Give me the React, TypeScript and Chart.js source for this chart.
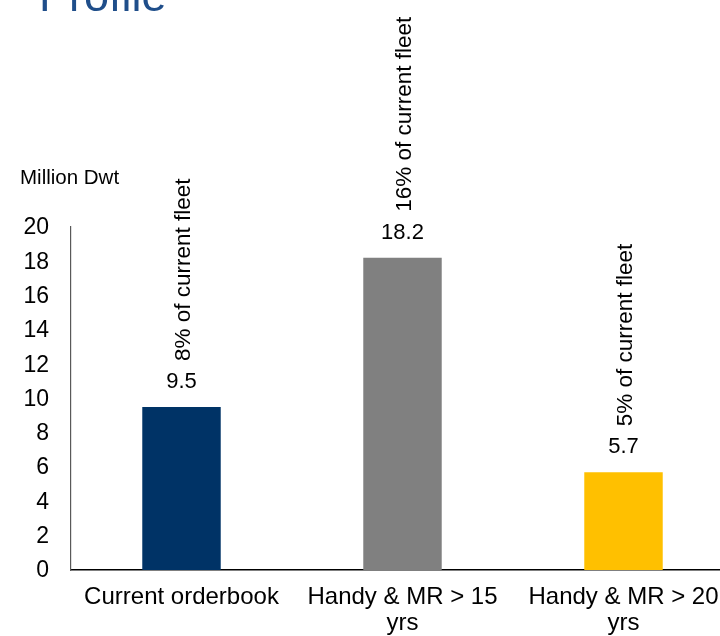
import React, { useEffect, useRef } from "react";
import { Chart, registerables } from "chart.js";

Chart.register(...registerables);

const categories: string[][] = [
  ["Current orderbook"],
  ["Handy & MR > 15", "yrs"],
  ["Handy & MR > 20", "yrs"],
];
const values: number[] = [9.5, 18.2, 5.7];
const valueLabels: string[] = ["9.5", "18.2", "5.7"];
const shareLabels: string[] = [
  "8% of current fleet",
  "16% of current fleet",
  "5% of current fleet",
];
const barColors: string[] = ["#003366", "#808080", "#FFC000"];
const yTicks: number[] = [0, 2, 4, 6, 8, 10, 12, 14, 16, 18, 20];
const titleText = "Profile";
const unitText = "Million Dwt";

const FONT = "'Liberation Sans', Arial, sans-serif";

const labelPlugin = {
  id: "labelPlugin",
  afterDatasetsDraw(chart: any) {
    const ctx = chart.ctx;
    const meta = chart.getDatasetMeta(0);
    ctx.save();
    ctx.fillStyle = "#000";
    meta.data.forEach((bar: any, i: number) => {
      const x = bar.x;
      const top = bar.y;
      ctx.font = `22px ${FONT}`;
      ctx.textAlign = "center";
      ctx.textBaseline = "middle";
      ctx.fillText(valueLabels[i], x, top - 25);
      ctx.save();
      ctx.translate(x + 2, top - 46);
      ctx.rotate(-Math.PI / 2);
      ctx.font = `22.5px ${FONT}`;
      ctx.textAlign = "left";
      ctx.textBaseline = "middle";
      ctx.fillText(shareLabels[i], 0, 0);
      ctx.restore();
    });
    ctx.restore();
  },
  afterDraw(chart: any) {
    const ctx = chart.ctx;
    ctx.save();
    ctx.fillStyle = "#1F4E8A";
    ctx.font = `45px ${FONT}`;
    ctx.textAlign = "left";
    ctx.textBaseline = "alphabetic";
    ctx.fillText(titleText, 39, 11);
    ctx.fillStyle = "#000";
    ctx.font = `20.5px ${FONT}`;
    ctx.textBaseline = "middle";
    ctx.fillText(unitText, 20, 178);
    ctx.restore();
  },
};

export default function App() {
  const ref = useRef<HTMLCanvasElement | null>(null);
  useEffect(() => {
    if (!ref.current) return;
    const chart = new Chart(ref.current, {
      type: "bar",
      data: {
        labels: categories,
        datasets: [
          {
            data: values,
            backgroundColor: barColors,
            barPercentage: 0.355,
            categoryPercentage: 1,
          },
        ],
      },
      options: {
        responsive: false,
        animation: false,
        layout: { padding: { top: 227, right: 6, left: 0, bottom: 0 } },
        plugins: {
          legend: { display: false },
          tooltip: { enabled: false },
          title: { display: false },
        },
        scales: {
          x: {
            grid: { display: false, drawTicks: false },
            border: { display: true, color: "#000", width: 1.5 },
            ticks: {
              color: "#000",
              font: { family: FONT, size: 24, lineHeight: 1.1 },
              padding: 14,
              maxRotation: 0,
              autoSkip: false,
            },
            afterFit: (s: any) => {
              s.height = 66;
            },
          },
          y: {
            min: 0,
            max: 20,
            afterBuildTicks: (s: any) => {
              s.ticks = yTicks.map((v) => ({ value: v }));
            },
            grid: { display: false, drawTicks: false },
            border: { display: true, color: "#595959", width: 1.2 },
            ticks: {
              color: "#000",
              font: { family: FONT, size: 23 },
              padding: 22,
              labelOffset: 1,
            },
            afterFit: (s: any) => {
              s.width = 71;
            },
          },
        },
      },
      plugins: [labelPlugin],
    });
    return () => chart.destroy();
  }, []);
  return (
    <div
      style={{
        position: "absolute",
        left: 0,
        top: 0,
        width: 720,
        height: 636,
        overflow: "hidden",
        background: "#fff",
      }}
    >
      <canvas ref={ref} width={740} height={636} style={{ display: "block" }} />
    </div>
  );
}
